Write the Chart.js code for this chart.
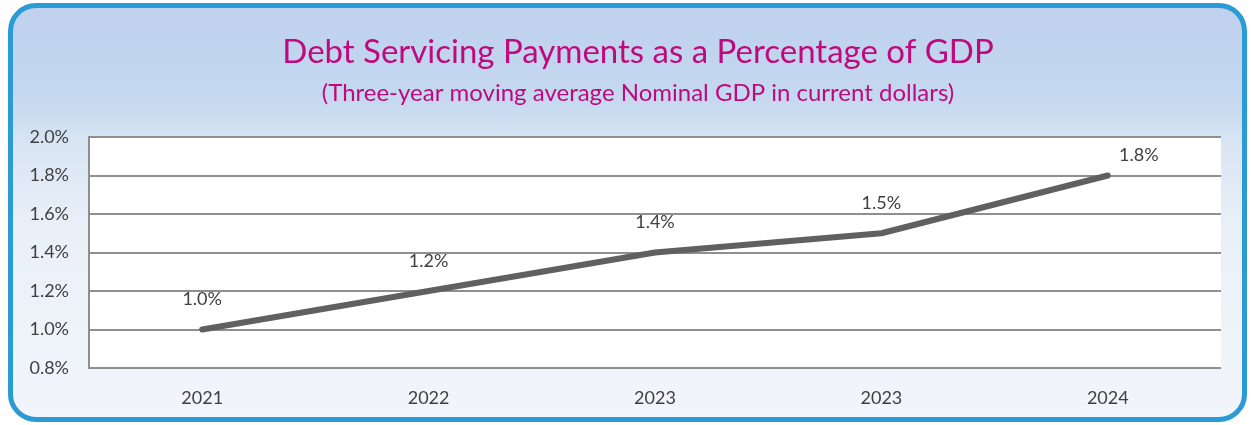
<!DOCTYPE html>
<html>
<head>
<meta charset="utf-8">
<script src="https://cdn.jsdelivr.net/npm/chart.js@4/dist/chart.umd.min.js"></script>
<style>
  body { margin: 0; width: 1251px; height: 425px; overflow: hidden; background: #ffffff; }
  #frame {
    position: absolute; left: 8px; top: 3px; width: 1239px; height: 419px;
    box-sizing: border-box; border: 5px solid #2b9bd6; border-radius: 28px;
    background: linear-gradient(to bottom, #bfd1ee 0%, #c4d8ef 22%, #dae6f4 34%, #eaf0f8 55%, #f2f5fb 100%);
  }
  #chart { position: absolute; left: 0; top: 0; }
</style>
</head>
<body>
<div id="frame"></div>
<canvas id="chart" width="1251" height="425"></canvas>
<script>
// chart data
var years = ['2021', '2022', '2023', '2023', '2024'];
var debtShare = [1.0, 1.2, 1.4, 1.5, 1.8];
var yMin = 0.8;
var yMax = 2.0;
var yStep = 0.2;

var fontName = 'Lato, "Open Sans", sans-serif';
var textColor = '#404040';

// white plot area behind the grid
var plotBackground = {
    id: 'plotBackground',
    beforeDraw: function (chart) {
        var a = chart.chartArea;
        var c = chart.ctx;
        c.save();
        c.fillStyle = '#ffffff';
        c.fillRect(a.left, a.top, a.right - a.left, a.bottom - a.top);
        c.restore();
    }
};

// value labels above each point
var valueLabels = {
    id: 'valueLabels',
    afterDatasetsDraw: function (chart) {
        var c = chart.ctx;
        var meta = chart.getDatasetMeta(0);
        var values = chart.data.datasets[0].data;
        c.save();
        c.font = '18px ' + fontName;
        c.fillStyle = textColor;
        c.textAlign = 'center';
        c.textBaseline = 'middle';
        meta.data.forEach(function (pt, i) {
            var x = pt.x;
            var y = pt.y - 30;
            // keep the label inside the plot, nudge it sideways instead
            if (y < chart.chartArea.top + 18) {
                y = pt.y - 20;
                x = pt.x + 31;
            }
            c.fillText(values[i].toFixed(1) + '%', x, y);
        });
        c.restore();
    }
};

var ctx = document.getElementById('chart').getContext('2d');
var debtChart = new Chart(ctx, {
    type: 'line',
    data: {
        labels: years,
        datasets: [{
            label: 'Debt servicing payments',
            data: debtShare,
            borderColor: '#606060',
            borderWidth: 6,
            borderCapStyle: 'round',
            borderJoinStyle: 'round',
            pointRadius: 0,
            tension: 0
        }]
    },
    options: {
        responsive: false,
        animation: false,
        layout: {
            padding: { left: 25, right: 0, top: 0, bottom: 0 }
        },
        plugins: {
            legend: { display: false },
            tooltip: { enabled: false },
            title: {
                display: true,
                text: 'Debt Servicing Payments as a Percentage of GDP',
                color: '#bf0a7e',
                font: { family: fontName, size: 33, weight: 'normal', lineHeight: 1.2 },
                padding: { top: 33, bottom: 0 }
            },
            subtitle: {
                display: true,
                text: '(Three-year moving average Nominal GDP in current dollars)',
                color: '#bf0a7e',
                font: { family: fontName, size: 24, weight: 'normal', lineHeight: 1.2 },
                padding: { top: 6, bottom: 29.6 }
            }
        },
        scales: {
            x: {
                offset: true,
                grid: { display: false, drawTicks: false },
                border: { display: false },
                ticks: {
                    color: textColor,
                    padding: 19,
                    font: { family: fontName, size: 18 }
                },
                afterFit: function (scale) { scale.height = 57; }
            },
            y: {
                min: yMin,
                max: yMax,
                grid: { color: '#8f8f8f', lineWidth: 2, drawTicks: false },
                border: { display: true, color: '#8f8f8f', width: 2 },
                ticks: {
                    stepSize: yStep,
                    color: textColor,
                    padding: 20,
                    font: { family: fontName, size: 18 },
                    callback: function (v) { return v.toFixed(1) + '%'; }
                },
                afterFit: function (scale) { scale.width = 64; }
            },
            // empty strip on the right, keeps the plot clear of the frame
            yRight: {
                position: 'right',
                min: yMin,
                max: yMax,
                grid: { display: false, drawTicks: false },
                border: { display: false },
                ticks: { display: false },
                afterFit: function (scale) { scale.width = 30; }
            }
        }
    },
    plugins: [plotBackground, valueLabels]
});
</script>
</body>
</html>
